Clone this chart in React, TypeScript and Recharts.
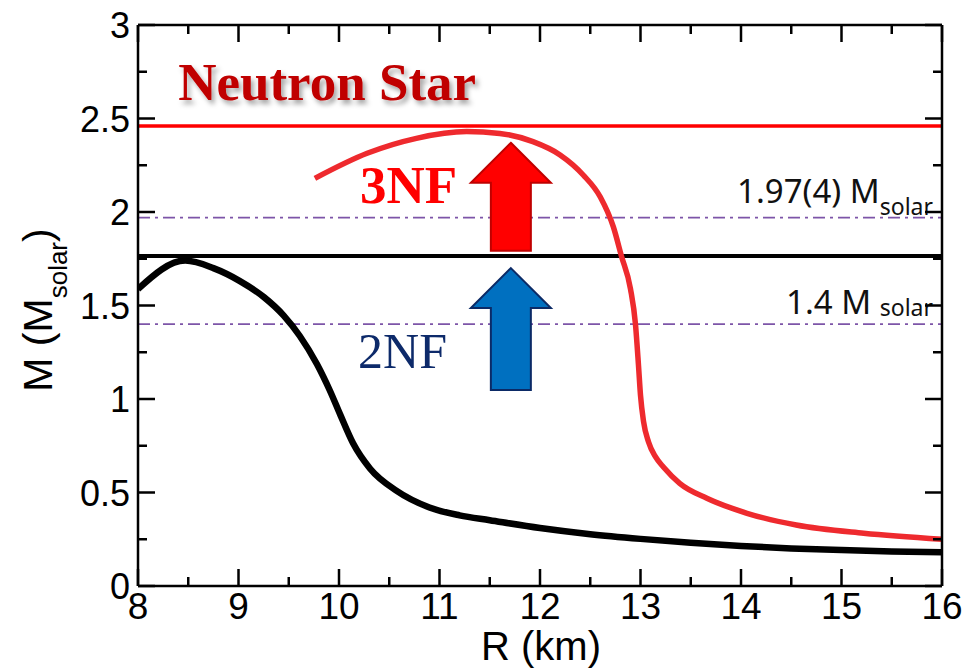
import { LineChart, Line, XAxis, YAxis, ReferenceLine, ReferenceDot, Customized } from 'recharts';

// tick positions
const radiusTicks = [8, 8.5, 9, 9.5, 10, 10.5, 11, 11.5, 12, 12.5, 13, 13.5, 14, 14.5, 15, 15.5, 16];
const massTicks = [0, 0.25, 0.5, 0.75, 1, 1.25, 1.5, 1.75, 2, 2.25, 2.5, 2.75, 3];

// 2NF (black) mass-radius curve
const twoNfRadius = [8.0, 8.47, 8.75, 9.01, 9.25, 9.45, 9.61, 9.78, 9.91, 10.01, 10.14, 10.31, 10.57, 10.9, 11.2, 11.5, 12.0, 12.5, 13.0, 13.5, 14.0, 14.5, 15.0, 15.5, 16.0];
const twoNfMass = [1.588, 1.74, 1.70, 1.632, 1.546, 1.446, 1.337, 1.187, 1.044, 0.919, 0.763, 0.627, 0.51, 0.42, 0.378, 0.352, 0.31, 0.277, 0.252, 0.231, 0.214, 0.201, 0.192, 0.185, 0.18];

// 3NF (red) mass-radius curve
const threeNfRadius = [9.76, 10.28, 10.77, 11.27, 11.6, 11.93, 12.2, 12.43, 12.6, 12.73, 12.81, 12.9, 12.95, 12.98, 13.0, 13.03, 13.08, 13.15, 13.23, 13.39, 13.66, 14.06, 14.55, 15.22, 16.0];
const threeNfMass = [2.18, 2.314, 2.394, 2.43, 2.42, 2.376, 2.305, 2.198, 2.08, 1.92, 1.765, 1.59, 1.4, 1.18, 1.02, 0.88, 0.77, 0.69, 0.635, 0.549, 0.469, 0.389, 0.326, 0.282, 0.25];

// maximum masses and observed masses
const maxMass3NF = 2.46;
const maxMass2NF = 1.765;
const observedMasses = [1.97, 1.4];
const observedLabels = ['1.97(4) M', '1.4 M '];

const twoNF = twoNfRadius.map((r, i) => ({ r, m: twoNfMass[i] }));
const threeNF = threeNfRadius.map((r, i) => ({ r, m: threeNfMass[i] }));

const SANS = 'Liberation Sans, Arial, Helvetica, sans-serif';
const SERIF = 'Liberation Serif, Times New Roman, serif';
const LABEL_SANS = 'Noto Sans, DejaVu Sans, sans-serif';

const MAJOR = 17;
const MINOR = 9;

function BottomTick({ x, y, payload }: any) {
  const major = Number.isInteger(payload.value);
  return (
    <g>
      <line x1={x} x2={x} y1={y} y2={y - (major ? MAJOR : MINOR)} stroke="#000" strokeWidth={2.5} />
      {major && (
        <text x={x} y={y + 33} textAnchor="middle" fontSize={37} fontFamily={SANS} fill="#000">
          {payload.value}
        </text>
      )}
    </g>
  );
}

function TopTick({ x, y, payload }: any) {
  const major = Number.isInteger(payload.value);
  return <line x1={x} x2={x} y1={y} y2={y + (major ? MAJOR : MINOR)} stroke="#000" strokeWidth={2.5} />;
}

function LeftTick({ x, y, payload }: any) {
  const major = Number.isInteger(payload.value * 2);
  return (
    <g>
      <line x1={x} x2={x + (major ? MAJOR : MINOR)} y1={y} y2={y} stroke="#000" strokeWidth={2.5} />
      {major && (
        <text x={x - 8} y={y + 13} textAnchor="end" fontSize={36} fontFamily={SANS} fill="#000">
          {payload.value}
        </text>
      )}
    </g>
  );
}

function RightTick({ x, y, payload }: any) {
  const major = Number.isInteger(payload.value * 2);
  return <line x1={x} x2={x - (major ? MAJOR : MINOR)} y1={y} y2={y} stroke="#000" strokeWidth={2.5} />;
}

function ObsLabel({ viewBox, text, index }: any) {
  const right = viewBox.x + viewBox.width - 9;
  const first = index === 0;
  return (
    <text x={right} y={viewBox.y - (first ? 15 : 10)} textAnchor="end" fontFamily={LABEL_SANS} fontSize={33} fill="#111">
      {text}
      <tspan fontSize={23} dy={first ? 12 : 2}>solar</tspan>
    </text>
  );
}

function Arrow({ cx, cy, len, fill, stroke }: any) {
  const pts = [
    [0, 0], [40, 40], [20, 40], [20, len], [-20, len], [-20, 40], [-40, 40],
  ].map(([dx, dy]) => `${cx + dx},${cy + dy}`).join(' ');
  return <polygon points={pts} fill={fill} stroke={stroke} strokeWidth={2} />;
}

function AxisTitles() {
  return (
    <g fontFamily={SANS} fill="#000">
      <text x={541} y={660} textAnchor="middle" fontSize={40}>R (km)</text>
      <text transform="translate(52,310) rotate(-90)" textAnchor="middle" fontSize={41}>
        M (M<tspan fontSize={26} dy={15}>solar</tspan><tspan dy={-15}>)</tspan>
      </text>
    </g>
  );
}

const axisLine = { stroke: '#000', strokeWidth: 2.5 };

export default function App() {
  return (
    <div style={{ position: 'absolute', left: 0, top: 0, background: '#fff' }}>
      <LineChart width={967} height={669} margin={{ top: 24, right: 24, bottom: 23, left: 38 }}>
        <defs>
          <filter id="nsShadow" x="-10%" y="-20%" width="130%" height="160%">
            <feDropShadow dx="3" dy="4" stdDeviation="2.5" floodColor="#000" floodOpacity="0.35" />
          </filter>
        </defs>
        <XAxis
          dataKey="r"
          type="number"
          domain={[8, 16]}
          ticks={radiusTicks}
          allowDataOverflow
          height={60}
          tickSize={0}
          tickMargin={0}
          tickLine={false}
          axisLine={axisLine}
          tick={<BottomTick />}
          interval={0}
        />
        <XAxis
          xAxisId="top"
          dataKey="r"
          orientation="top"
          type="number"
          domain={[8, 16]}
          ticks={radiusTicks}
          allowDataOverflow
          height={1}
          tickSize={0}
          tickMargin={0}
          tickLine={false}
          axisLine={axisLine}
          tick={<TopTick />}
          interval={0}
        />
        <YAxis
          type="number"
          domain={[0, 3]}
          ticks={massTicks}
          allowDataOverflow
          width={100}
          tickSize={0}
          tickMargin={0}
          tickLine={false}
          axisLine={axisLine}
          tick={<LeftTick />}
          interval={0}
        />
        <YAxis
          yAxisId="right"
          orientation="right"
          type="number"
          domain={[0, 3]}
          ticks={massTicks}
          allowDataOverflow
          width={1}
          tickSize={0}
          tickMargin={0}
          tickLine={false}
          axisLine={axisLine}
          tick={<RightTick />}
          interval={0}
        />

        {observedMasses.map((m, i) => (
          <ReferenceLine
            key={m}
            y={m}
            stroke="#7d55a8"
            strokeWidth={1.8}
            strokeDasharray="12 5 3 5"
            label={<ObsLabel text={observedLabels[i]} index={i} />}
          />
        ))}
        <ReferenceLine y={maxMass3NF} stroke="#ff0000" strokeWidth={3.5} />
        <ReferenceLine y={maxMass2NF} stroke="#000" strokeWidth={4} />

        {/* invisible series that keeps the top and right frame axes alive */}
        <Line
          data={twoNF}
          dataKey="m"
          xAxisId="top"
          yAxisId="right"
          stroke="none"
          dot={false}
          activeDot={false}
          legendType="none"
          isAnimationActive={false}
        />
        <Line data={twoNF} dataKey="m" type="monotone" stroke="#000" strokeWidth={6.5} dot={false} isAnimationActive={false} />
        <Line data={threeNF} dataKey="m" type="monotone" stroke="#ee2a2e" strokeWidth={5.5} dot={false} isAnimationActive={false} />

        <ReferenceDot
          x={11.71}
          y={2.37}
          r={0}
          shape={(p: any) => <Arrow cx={p.cx} cy={p.cy} len={108} fill="#ff0000" stroke="#c00000" />}
        />
        <ReferenceDot
          x={11.71}
          y={1.7}
          r={0}
          shape={(p: any) => <Arrow cx={p.cx} cy={p.cy} len={122} fill="#0070c0" stroke="#0b2a66" />}
        />
        <ReferenceDot
          x={8.4}
          y={2.6}
          r={0}
          shape={(p: any) => (
            <text x={p.cx} y={p.cy} fontFamily={SERIF} fontWeight="bold" fontSize={53} fill="#c00000" filter="url(#nsShadow)">
              Neutron Star
            </text>
          )}
        />
        <ReferenceDot
          x={10.21}
          y={2.05}
          r={0}
          shape={(p: any) => (
            <text x={p.cx} y={p.cy} fontFamily={SERIF} fontWeight="bold" fontSize={53} fill="#ff0000">
              3NF
            </text>
          )}
        />
        <ReferenceDot
          x={10.19}
          y={1.166}
          r={0}
          shape={(p: any) => (
            <text x={p.cx} y={p.cy} fontFamily={SERIF} fontSize={50} fill="#0d2a6a">
              2NF
            </text>
          )}
        />
        <Customized component={<AxisTitles />} />
      </LineChart>
    </div>
  );
}
